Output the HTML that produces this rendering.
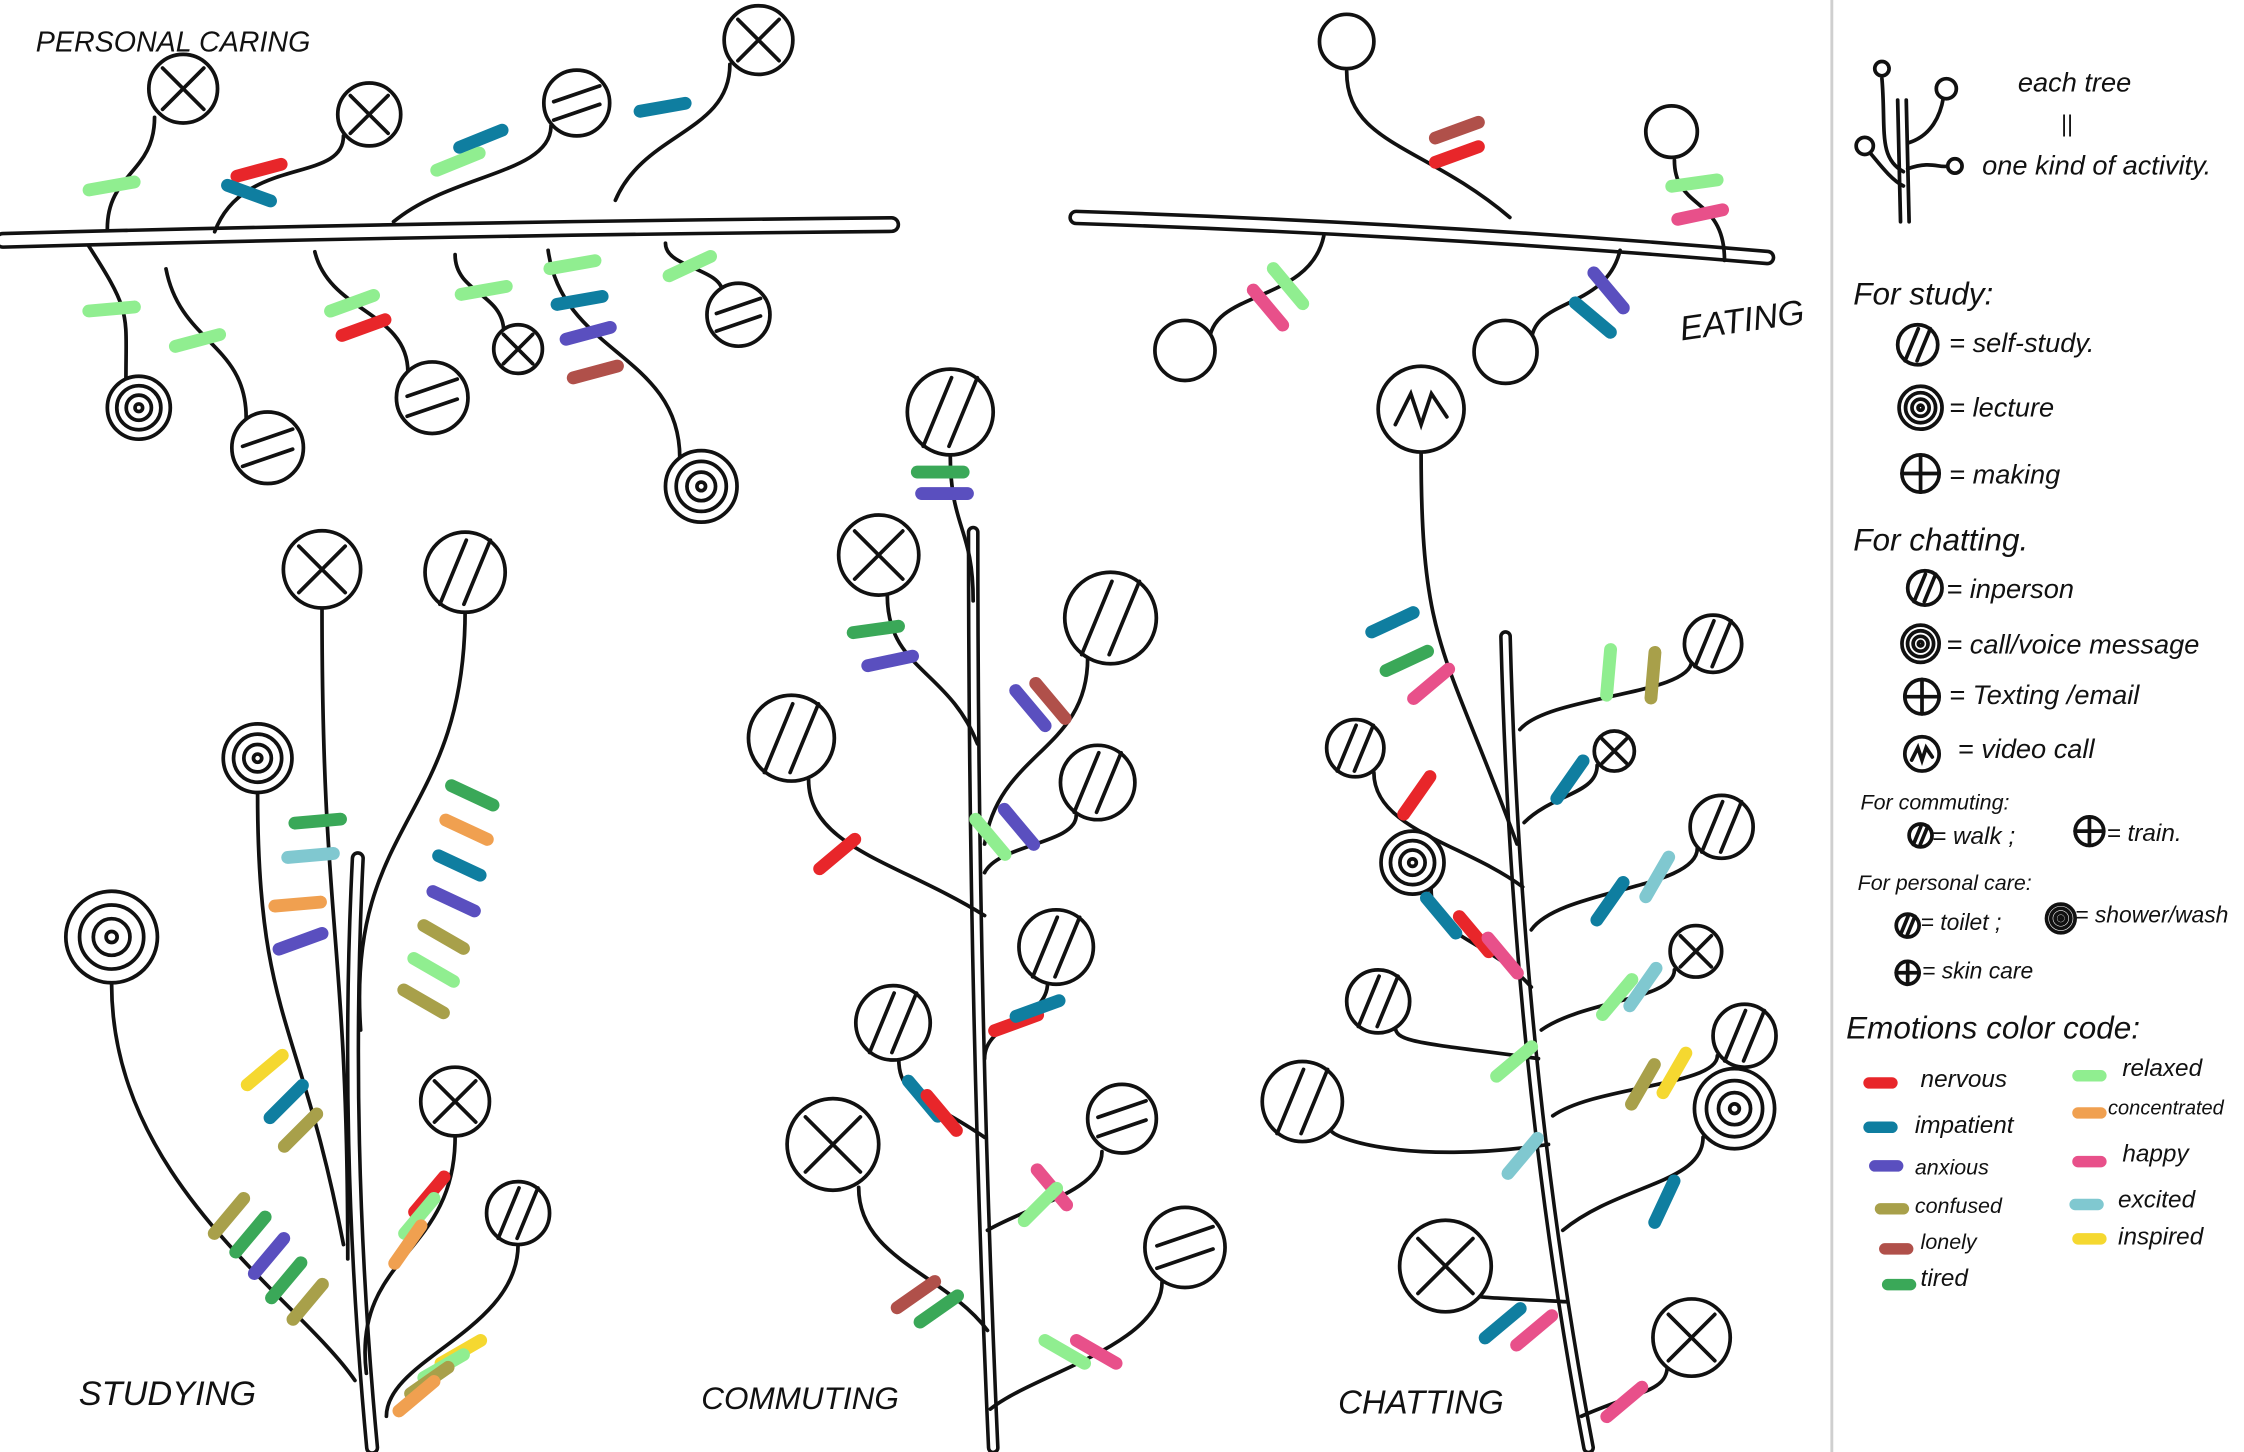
<!DOCTYPE html>
<html><head><meta charset="utf-8">
<style>
html,body{margin:0;padding:0;background:#fff;}
svg{display:block}
text{font-family:"Liberation Sans",sans-serif;fill:#111}
</style></head>
<body>
<svg id="s" width="2244" height="1452" viewBox="0 0 1568 1015" preserveAspectRatio="none" xmlns="http://www.w3.org/2000/svg">
<rect width="1568" height="1015" fill="#fff"/>
<line x1="1280" y1="0" x2="1280" y2="1015" stroke="#cfcfcf" stroke-width="2"/>
<g id="g" fill="none" stroke="#111" stroke-width="2.6" stroke-linecap="round"></g>
<text x="25" y="36" font-size="20" font-style="italic">PERSONAL CARING</text>
<text x="55" y="982" font-size="24" font-style="italic">STUDYING</text>
<text x="490" y="985" font-size="22" font-style="italic">COMMUTING</text>
<text x="935" y="988" font-size="23" font-style="italic">CHATTING</text>
<text x="1175" y="238" font-size="24" font-style="italic" transform="rotate(-8 1175 238)">EATING</text>
<g font-style="italic" font-size="19">
<text x="1410" y="64">each tree</text>
<text x="1440" y="92" font-size="16">||</text>
<text x="1385" y="122">one kind of activity.</text>
<text x="1295" y="213" font-size="22">For study:</text>
<text x="1362" y="246">= self-study.</text>
<text x="1362" y="291">= lecture</text>
<text x="1362" y="338">= making</text>
<text x="1295" y="385" font-size="22">For chatting.</text>
<text x="1360" y="418">= inperson</text>
<text x="1360" y="457">= call/voice message</text>
<text x="1362" y="492">= Texting /email</text>
<text x="1368" y="530">= video call</text>
<text x="1300" y="566" font-size="15">For commuting:</text>
<text x="1350" y="590" font-size="17">= walk ;</text>
<text x="1472" y="588" font-size="17">= train.</text>
<text x="1298" y="622" font-size="15">For personal care:</text>
<text x="1342" y="650" font-size="16">= toilet ;</text>
<text x="1450" y="645" font-size="16">= shower/wash</text>
<text x="1343" y="684" font-size="16">= skin care</text>
<text x="1290" y="726" font-size="22">Emotions color code:</text>
<g font-size="17">
<text x="1342" y="760">nervous</text>
<text x="1338" y="792">impatient</text>
<text x="1338" y="821" font-size="15">anxious</text>
<text x="1338" y="848" font-size="15">confused</text>
<text x="1342" y="873" font-size="15">lonely</text>
<text x="1342" y="899">tired</text>
<text x="1483" y="752">relaxed</text>
<text x="1473" y="779" font-size="14">concentrated</text>
<text x="1483" y="812">happy</text>
<text x="1480" y="844">excited</text>
<text x="1480" y="870">inspired</text>
</g></g>
</svg>
<script>
var C={r:"#e8262a",b:"#0f7ea0",a:"#5a4fbf",c:"#a8a04a",l:"#b0504a",t:"#3aa858",g:"#90ee90",o:"#f0a050",h:"#e8508a",e:"#80c8d0",i:"#f5d830"};
var g=document.getElementById('g'),out="";
function p(d,w){out+='<path d="'+d+'"'+(w?' stroke-width="'+w+'"':'')+'/>';}
function br(d,w){out+='<path d="'+d+'" stroke-width="'+(w||13)+'"/><path d="'+d+'" stroke="#fff" stroke-width="'+((w||13)-5)+'"/>';}
function m(x,y,k,a,L){a=(a===undefined)?-22:a;L=L||32;var r=a*Math.PI/180,dx=Math.cos(r)*L/2,dy=Math.sin(r)*L/2;
out+='<line x1="'+(x-dx)+'" y1="'+(y-dy)+'" x2="'+(x+dx)+'" y2="'+(y+dy)+'" stroke="'+C[k]+'" stroke-width="9"/>';}
function c(x,y,r,t){out+='<circle cx="'+x+'" cy="'+y+'" r="'+r+'" fill="#fff"/>';var q=r*0.6;
if(t=="x"){p("M"+(x-q)+" "+(y-q)+"L"+(x+q)+" "+(y+q)+"M"+(x+q)+" "+(y-q)+"L"+(x-q)+" "+(y+q));}
if(t=="+"){p("M"+(x-r)+" "+y+"L"+(x+r)+" "+y+"M"+x+" "+(y-r)+"L"+x+" "+(y+r));}
if(t=="/"){for(var s of [-0.3,0.3]){var o=s*r;p("M"+(x+o-q*0.55)+" "+(y+q+0.2*r)+"L"+(x+o+q*0.55)+" "+(y-q-0.2*r));}}
if(t=="="){for(var s of [-0.28,0.28]){var o=s*r;p("M"+(x-q-0.1*r)+" "+(y+o+q*0.4)+"L"+(x+q+0.1*r)+" "+(y+o-q*0.4));}}
if(t=="s"){out+='<circle cx="'+x+'" cy="'+y+'" r="'+(r*0.7)+'"/><circle cx="'+x+'" cy="'+y+'" r="'+(r*0.4)+'"/><circle cx="'+x+'" cy="'+y+'" r="'+(r*0.12)+'"/>';}
if(t=="z"){p("M"+(x-q)+" "+(y+q*0.6)+"L"+(x-q*0.4)+" "+(y-q*0.6)+"L"+(x)+" "+(y+q*0.6)+"L"+(x+q*0.4)+" "+(y-q*0.6)+"L"+(x+q)+" "+(y+q*0.3));}}
function st(x1,y1,x2,y2,bx,by){bx=bx||0;by=by||0;p("M"+x1+" "+y1+" C"+(x1+bx)+" "+((y1+y2)/2+by)+" "+x2+" "+((y1+y2)/2)+" "+x2+" "+y2);}
br("M2 168 Q300 160 623 157",12);
st(75,160,108,82,0,0);c(128,62,24,"x");m(78,130,"g",-10);
st(150,162,240,95,20,-20);c(258,80,22,"x");m(181,119,"r",-15);m(174,135,"b",20);
st(275,155,385,88,40,0);c(403,72,23,"=");m(336,97,"b");m(320,113,"g");
st(430,140,510,45,20,0);c(530,28,24,"x");m(463,75,"b",-10);
st(62,172,88,265,30,0);c(97,285,22,"s");m(78,216,"g",-5);
st(116,188,172,292,10,0);c(187,313,25,"=");m(138,238,"g",-15);
st(220,176,285,260,10,0);c(302,278,25,"=");m(246,212,"g",-20);m(254,229,"r",-20);
st(318,178,352,232,0,0);c(362,244,17,"x");m(338,203,"g",-10);
st(383,175,475,320,10,0);c(490,340,25,"s");m(400,185,"g",-10);m(405,210,"b",-10);m(411,233,"a",-15);m(416,260,"l",-15);
st(465,170,505,205,0,0);c(516,220,22,"=");m(482,186,"g",-25);
br("M752 152 Q1000 160 1235 180",11);
st(1055,152,941,50,-60,0);c(941,29,19,"");m(1018,91,"l",-20);m(1018,108,"r",-20);
st(1205,182,1170,112,0,-10);c(1168,92,18,"");m(1184,128,"g",-8);m(1188,150,"h",-12);
st(925,165,845,240,-10,10);c(828,245,21,"");m(886,215,"h",50);m(900,200,"g",50);
st(1132,175,1070,240,-10,10);c(1052,246,22,"");m(1124,203,"a",50);m(1113,222,"b",40);
br("M260 1012 Q240 800 250 600",10);
st(243,880,225,425,0,0);c(225,398,27,"x");
st(252,720,325,427,-10,0);c(325,400,28,"/");
st(240,870,180,555,-30,0);c(180,530,24,"s");
st(248,965,78,688,-40,80);c(78,655,32,"s");
st(256,960,318,795,-10,0);c(318,770,24,"x");
st(270,990,362,870,0,20);c(362,848,22,"/");
m(222,574,"t",-5);m(217,598,"e",-5);m(208,632,"o",-5);m(210,658,"a",-20);
m(330,556,"t",25);m(326,580,"o",25);m(321,605,"b",25);m(317,630,"a",25);m(310,655,"c",30);m(303,678,"g",30);m(296,700,"c",30);
m(185,748,"i",-40);m(200,770,"b",-45);m(210,790,"c",-45);
m(160,850,"c",-50);m(175,863,"t",-50);m(188,878,"a",-50);m(200,895,"t",-50);m(215,910,"c",-50);
m(300,835,"r",-50);m(293,850,"g",-50);m(285,870,"o",-55);
m(322,945,"i",-30);m(310,955,"g",-30);m(300,965,"c",-35);m(291,976,"o",-40);
br("M680 372 Q680 700 694 1012",9);
st(680,420,664,318,0,0);c(664,288,30,"/");m(657,330,"t",0);m(660,345,"a",0);
st(683,520,620,416,-20,0);c(614,388,28,"x");m(612,440,"t",-8);m(622,462,"a",-12);
st(688,590,760,460,10,0);c(776,432,32,"/");m(720,495,"a",50);m(734,490,"l",50);
st(688,640,565,545,-60,10);c(553,516,30,"/");m(585,597,"r",-40);
st(688,610,752,570,10,0);c(767,547,26,"/");m(692,585,"g",50);m(712,578,"a",50);
st(688,740,732,687,0,0);c(738,662,26,"/");m(710,715,"r",-20);m(725,705,"b",-20);
st(688,795,628,740,-40,0);c(624,715,26,"/");m(645,768,"b",50);m(658,778,"r",50);
st(690,860,770,805,30,10);c(784,782,24,"=");m(735,830,"h",50);m(727,842,"g",-45);
st(690,930,600,830,-30,10);c(582,800,32,"x");m(640,905,"l",-35);m(656,915,"t",-35);
st(692,985,812,896,30,20);c(828,872,28,"=");m(744,945,"g",30);m(766,945,"h",30);
br("M1052 445 Q1060 750 1110 1012",9);
st(1060,590,993,316,-50,0);c(993,286,30,"z");m(973,435,"b",-25);m(983,462,"t",-25);m(1000,478,"h",-40);
st(1064,620,960,540,-40,10);c(947,523,20,"/");m(990,556,"r",-55);
st(1070,690,1000,622,-30,0);c(987,603,22,"s");m(1007,640,"b",50);m(1030,653,"r",50);m(1050,668,"h",50);
st(1075,740,975,718,-80,0);c(963,700,22,"/");m(1058,742,"g",-40);
st(1082,800,930,790,-100,20);c(910,770,28,"/");m(1064,808,"e",-50);
st(1095,910,1030,905,-40,0);c(1010,885,32,"x");m(1050,925,"b",-40);m(1072,930,"h",-40);
st(1105,990,1165,955,40,0);c(1182,935,27,"x");m(1135,980,"h",-40);
st(1062,510,1182,462,20,0);c(1197,450,20,"/");m(1124,470,"g",-85);m(1155,472,"c",-85);
st(1065,575,1116,535,20,0);c(1128,525,14,"x");m(1097,545,"b",-55);
st(1070,650,1186,593,20,0);c(1203,578,22,"/");m(1125,630,"b",-55);m(1158,613,"e",-60);
st(1077,720,1170,678,30,0);c(1185,665,18,"x");m(1130,697,"g",-50);m(1148,690,"e",-55);
st(1085,780,1200,738,30,0);c(1219,724,22,"/");m(1148,758,"c",-60);m(1170,750,"i",-60);
st(1092,860,1190,795,40,0);c(1212,775,28,"s");m(1163,840,"b",-65);
p("M1332 70 L1334 155 M1326 70 L1328 155");
p("M1330 120 C1312 110 1318 90 1315 55");c(1315,48,5,"");
p("M1333 100 C1350 95 1356 80 1358 68");c(1360,62,7,"");
p("M1330 130 C1320 125 1310 110 1305 105");c(1303,102,6,"");
p("M1333 118 C1350 112 1355 118 1362 116");c(1366,116,5,"");
c(1340,241,14,"/");c(1342,285,15,"s");c(1342,331,13,"+");
c(1345,411,12,"/");c(1342,450,13,"s");c(1343,487,12,"+");c(1343,527,12,"z");
c(1342,584,8,"/");c(1460,581,10,"+");c(1333,647,8,"/");c(1440,642,10,"s");c(1333,680,8,"+");
var lg=[["r",1314,757],["b",1314,788],["a",1318,815],["c",1322,845],["l",1325,873],["t",1327,898],["g",1460,752],["o",1460,778],["h",1460,812],["e",1458,842],["i",1460,866]];
lg.forEach(function(v){out+='<line x1="'+(v[1]-8)+'" y1="'+v[2]+'" x2="'+(v[1]+8)+'" y2="'+v[2]+'" stroke="'+C[v[0]]+'" stroke-width="8"/>';});
g.innerHTML=out;
</script>
</body></html>
